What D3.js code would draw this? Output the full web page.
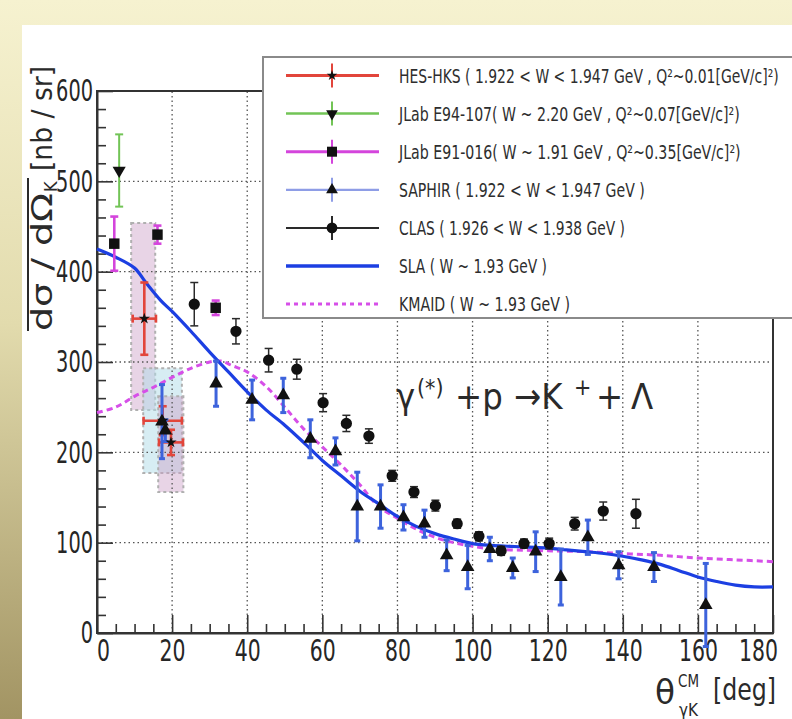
<!DOCTYPE html>
<html><head><meta charset="utf-8">
<script src="https://cdn.jsdelivr.net/npm/d3@7"></script>
<style>html,body{margin:0;padding:0;background:#fff;} svg{display:block;}</style>
</head><body>
<svg id="c" width="792" height="719"></svg>
<script>
// ---------------- DATA ----------------
const xTicks = [0, 20, 40, 60, 80, 100, 120, 140, 160, 180];
const yTicks = [0, 100, 200, 300, 400, 500, 600];

// CLAS (1.926 < W < 1.938 GeV)
const clasAngle = [25.9, 37.0, 45.7, 53.2, 60.2, 66.4, 72.4, 78.6, 84.4, 90.1, 95.9, 101.7, 107.6, 113.7, 120.4, 127.2, 134.8, 143.5];
const clasValue = [364, 334, 302, 292, 255, 232, 218, 174, 156, 141, 121, 107, 91, 99, 99, 121, 135, 132];
const clasError = [24, 14, 13, 11, 10, 9, 8, 6, 6, 6, 5, 5, 5, 5, 6, 7, 10, 16];

// SAPHIR (1.922 < W < 1.947 GeV)
const saphirAngle = [17.3, 18.2, 31.7, 41.3, 49.6, 56.8, 63.5, 69.3, 75.5, 81.6, 87.2, 93.1, 98.7, 104.6, 110.7, 116.8, 123.5, 130.7, 138.9, 148.3, 162.1];
const saphirValue = [234, 224, 276, 258, 263, 215, 201, 140, 140, 128, 121, 86, 73, 93, 72, 90, 62, 106, 75, 73, 31];
const saphirError = [41, 12, 25, 22, 19, 21, 15, 38, 24, 14, 15, 17, 24, 13, 11, 22, 31, 19, 15, 16, 46];

// HES-HKS
const hesAngle = [12.6, 17.5, 19.7];
const hesValue = [348, 235, 211];
const hesAngleErr = [3.1, 5.1, 3.2];
const hesError = [40, 16, 14];
// HES-HKS systematic boxes
const sysLow = [9.1, 12.3, 16.3];
const sysHigh = [15.5, 22.6, 23.0];
const sysBottom = [247, 177, 156];
const sysTop = [454, 293, 262];

// JLab E94-107
const e94Angle = [5.9];
const e94Value = [512];
const e94Error = [40];

// JLab E91-016
const e91Angle = [4.6, 16.1, 31.6];
const e91Value = [431, 441, 360];
const e91Error = [30, 10, 8];

// SLA model
const slaAngle = [0, 5, 10, 13, 17, 20, 25, 30, 35, 40, 45, 50, 55, 60, 65, 70, 75, 80, 85, 90, 95, 100, 105, 110, 115, 120, 125, 130, 135, 140, 145, 150, 155, 160, 165, 170, 175, 180];
const slaValue = [425, 416, 404, 388, 368, 356, 334, 311, 289, 267, 247, 230, 211, 191, 174, 157, 143, 129, 118, 110, 104, 99, 97, 96, 95, 94, 92, 90, 88, 85, 81, 76, 69, 62, 57, 53, 51, 51];

// KMAID model
const kmaidAngle = [0, 5, 10, 15, 20, 25, 30, 33, 36, 40, 45, 50, 55, 60, 65, 70, 75, 80, 85, 90, 95, 100, 105, 110, 120, 130, 140, 150, 160, 170, 180];
const kmaidValue = [244, 250, 262, 272, 283, 293, 300, 301, 296, 289, 273, 250, 226, 206, 186, 164, 140, 127, 115, 106, 100, 96, 93, 92, 91, 90, 88, 86, 83, 81, 79];

const legendLabels = [
  "HES-HKS ( 1.922 < W < 1.947 GeV , Q²~0.01[GeV/c]²)",
  "JLab E94-107( W ~ 2.20 GeV , Q²~0.07[GeV/c]²)",
  "JLab E91-016( W ~ 1.91 GeV , Q²~0.35[GeV/c]²)",
  "SAPHIR  ( 1.922 < W < 1.947 GeV )",
  "CLAS ( 1.926 < W < 1.938 GeV )",
  "SLA ( W ~ 1.93 GeV )",
  "KMAID ( W ~ 1.93 GeV )"
];

// ---------------- LAYOUT / STYLE ----------------
const W = 792, H = 719;
const FONT = "'Liberation Sans Narrow','DejaVu Sans Condensed','Liberation Sans',sans-serif";
const C = {
  red: "#e2453b", green: "#72c456", magenta: "#d445dc", saphirLine: "#8e9de6",
  saphirBar: "#3d63dc", clas: "#2a2a2a", sla: "#1c3fe2", kmaid: "#d64fe8",
  pinkFill: "rgba(205,160,200,0.45)", blueFill: "rgba(175,220,232,0.5)"
};
const legendTextWidths = [380, 341, 342, 246, 226, 148, 171];

const svg = d3.select("#c");
const defs = svg.append("defs");
const grad = defs.append("linearGradient").attr("id", "bg").attr("x1", 0).attr("y1", 0).attr("x2", 0).attr("y2", 1);
grad.append("stop").attr("offset", "0%").attr("stop-color", "#f6f2d0");
grad.append("stop").attr("offset", "45%").attr("stop-color", "#e2dbad");
grad.append("stop").attr("offset", "100%").attr("stop-color", "#a29463");
svg.append("rect").attr("width", W).attr("height", H).attr("fill", "url(#bg)");
svg.append("rect").attr("x", 22).attr("y", 25).attr("width", W - 22).attr("height", H - 25).attr("fill", "#fff");

const x = d3.scaleLinear().domain([0, 180]).range([97, 773]);
const y = d3.scaleLinear().domain([0, 600]).range([633, 91]);

// systematic boxes
const sysFill = [C.pinkFill, C.blueFill, C.pinkFill];
svg.append("g").selectAll("rect").data(sysLow).join("rect")
  .attr("x", (d, i) => x(sysLow[i]))
  .attr("y", (d, i) => y(sysTop[i]))
  .attr("width", (d, i) => x(sysHigh[i]) - x(sysLow[i]))
  .attr("height", (d, i) => y(sysBottom[i]) - y(sysTop[i]))
  .attr("fill", (d, i) => sysFill[i])
  .attr("stroke", "#b0b0b0").attr("stroke-width", 2).attr("stroke-dasharray", "3,3");

// grid
const grid = svg.append("g").attr("stroke", "#555").attr("stroke-width", 1.3).attr("stroke-dasharray", "1.5,3");
grid.selectAll(".gx").data(xTicks.slice(1, -1)).join("line")
  .attr("x1", d => x(d)).attr("x2", d => x(d)).attr("y1", y(0)).attr("y2", y(600));
grid.selectAll(".gy").data(yTicks.slice(1, -1)).join("line")
  .attr("y1", d => y(d)).attr("y2", d => y(d)).attr("x1", x(0)).attr("x2", x(180));

// axes
const xMinor = d3.range(0, 181, 5).filter(v => v % 20 !== 0);
const yMinor = d3.range(0, 601, 20).filter(v => v % 100 !== 0);
const axStyle = digitW => sel => {
  sel.selectAll("line").attr("stroke", "#333").attr("stroke-width", 1.6);
  sel.selectAll("path").attr("stroke", "#333").attr("stroke-width", 2);
  sel.selectAll("text").attr("fill", "#262626").style("font-family", FONT).style("font-size", "31px")
    .attr("textLength", function () { return this.textContent.length * digitW; })
    .attr("lengthAdjust", "spacingAndGlyphs");
};
svg.append("g").attr("transform", `translate(0,${y(0)})`)
  .call(d3.axisBottom(x).tickValues(xMinor).tickSize(-9).tickFormat("")).call(axStyle(13))
  .select(".domain").remove();
svg.append("g").attr("transform", `translate(${x(0)},0)`)
  .call(d3.axisLeft(y).tickValues(yMinor).tickSize(-9).tickFormat("")).call(axStyle(12))
  .select(".domain").remove();
const xAx = svg.append("g").attr("transform", `translate(0,${y(0)})`)
  .call(d3.axisBottom(x).tickValues(xTicks).tickSizeInner(-18).tickSizeOuter(0).tickPadding(6)).call(axStyle(13));
// first and last x labels are nudged inside, as in the original
xAx.selectAll(".tick text").attr("dx", d => d === 0 ? 6 : (d === 180 ? -15 : 0));
svg.append("g").attr("transform", `translate(${x(0)},0)`)
  .call(d3.axisLeft(y).tickValues(yTicks).tickSizeInner(-16).tickSizeOuter(0).tickPadding(4)).call(axStyle(12.3));
svg.append("rect").attr("x", x(0)).attr("y", y(600)).attr("width", x(180) - x(0)).attr("height", y(0) - y(600))
  .attr("fill", "none").attr("stroke", "#333").attr("stroke-width", 2);

// model curves
const plot = svg.append("g");
plot.append("path")
  .datum(kmaidAngle.map((a, i) => [a, kmaidValue[i]]))
  .attr("d", d3.line().x(d => x(d[0])).y(d => y(d[1])).curve(d3.curveCatmullRom))
  .attr("fill", "none").attr("stroke", C.kmaid).attr("stroke-width", 3).attr("stroke-dasharray", "6,4");
plot.append("path")
  .datum(slaAngle.map((a, i) => [a, slaValue[i]]))
  .attr("d", d3.line().x(d => x(d[0])).y(d => y(d[1])).curve(d3.curveCatmullRom))
  .attr("fill", "none").attr("stroke", C.sla).attr("stroke-width", 3.2);

// error bar helper
function vbars(angles, vals, errs, color, width, cap) {
  const gg = plot.append("g").attr("stroke", color).attr("stroke-width", width);
  angles.forEach((a, i) => {
    const cx = x(a), y1 = y(vals[i] + errs[i]), y2 = y(vals[i] - errs[i]);
    gg.append("line").attr("x1", cx).attr("x2", cx).attr("y1", y1).attr("y2", y2);
    gg.append("line").attr("x1", cx - cap).attr("x2", cx + cap).attr("y1", y1).attr("y2", y1);
    gg.append("line").attr("x1", cx - cap).attr("x2", cx + cap).attr("y1", y2).attr("y2", y2);
  });
}
function markers(angles, vals, type, size, rot) {
  plot.append("g").selectAll("path").data(angles).join("path")
    .attr("transform", (d, i) => `translate(${x(d)},${y(vals[i])}) rotate(${rot || 0})`)
    .attr("d", d3.symbol().type(type).size(size)).attr("fill", "#111");
}

// HES-HKS
vbars(hesAngle, hesValue, hesError, C.red, 2.6, 4);
const hg = plot.append("g").attr("stroke", C.red).attr("stroke-width", 2.6);
hesAngle.forEach((a, i) => {
  const x1 = x(a - hesAngleErr[i]), x2 = x(a + hesAngleErr[i]), cy = y(hesValue[i]);
  hg.append("line").attr("x1", x1).attr("x2", x2).attr("y1", cy).attr("y2", cy);
  hg.append("line").attr("x1", x1).attr("x2", x1).attr("y1", cy - 4).attr("y2", cy + 4);
  hg.append("line").attr("x1", x2).attr("x2", x2).attr("y1", cy - 4).attr("y2", cy + 4);
});
// E94-107
vbars(e94Angle, e94Value, e94Error, C.green, 2, 4);
markers(e94Angle, e94Value, d3.symbolTriangle, 75, 180);
// E91-016
vbars(e91Angle, e91Value, e91Error, C.magenta, 2.6, 4);
markers(e91Angle, e91Value, d3.symbolSquare, 110);
// SAPHIR
vbars(saphirAngle, saphirValue, saphirError, C.saphirBar, 3, 3);
markers(saphirAngle, saphirValue, d3.symbolTriangle, 80);
// HES markers on top
markers(hesAngle, hesValue, d3.symbolStar, 40);
// CLAS
vbars(clasAngle, clasValue, clasError, C.clas, 1.5, 4);
markers(clasAngle, clasValue, d3.symbolCircle, 100);

// annotation
const ann = svg.append("text").attr("y", 409).attr("fill", "#2a2a2a")
  .style("font-family", FONT).style("font-size", "36px");
ann.append("tspan").attr("x", 396).text("γ");
ann.append("tspan").attr("x", 417).attr("dy", -13).style("font-size", "23px").text("(*)");
ann.append("tspan").attr("x", 455).attr("dy", 13).text("+p");
ann.append("tspan").attr("x", 514).text("→K");
ann.append("tspan").attr("x", 574).attr("dy", -14).style("font-size", "23px").text("+");
ann.append("tspan").attr("x", 596).attr("dy", 14).text("+");
ann.append("tspan").attr("x", 631).text("Λ");

// axis titles
const tStyle = s => s.attr("fill", "#2a2a2a").style("font-family", FONT);
svg.append("text").attr("transform", "translate(52,331) rotate(-90)").call(tStyle)
  .style("font-size", "28px").attr("textLength", 138).attr("lengthAdjust", "spacingAndGlyphs").text("dσ / dΩ");
svg.append("text").attr("transform", "translate(57,192) rotate(-90)").call(tStyle)
  .style("font-size", "18px").text("K");
svg.append("line").attr("x1", 28).attr("x2", 28).attr("y1", 331).attr("y2", 178)
  .attr("stroke", "#2a2a2a").attr("stroke-width", 2);
svg.append("text").attr("transform", "translate(52,171) rotate(-90)").call(tStyle)
  .style("font-size", "28px").attr("textLength", 105).attr("lengthAdjust", "spacingAndGlyphs").text("[nb / sr]");

svg.append("text").attr("x", 655).attr("y", 704).call(tStyle).style("font-size", "33px")
  .attr("textLength", 20).attr("lengthAdjust", "spacingAndGlyphs").text("θ");
svg.append("text").attr("x", 678).attr("y", 687).call(tStyle).style("font-size", "17px")
  .attr("textLength", 21).attr("lengthAdjust", "spacingAndGlyphs").text("CM");
svg.append("text").attr("x", 679).attr("y", 716).call(tStyle).style("font-size", "17px")
  .attr("textLength", 19).attr("lengthAdjust", "spacingAndGlyphs").text("γK");
svg.append("text").attr("x", 713).attr("y", 700).call(tStyle).style("font-size", "30px")
  .attr("textLength", 63).attr("lengthAdjust", "spacingAndGlyphs").text("[deg]");

// legend
const lg = svg.append("g");
lg.append("rect").attr("x", 263).attr("y", 57).attr("width", 560).attr("height", 261)
  .attr("fill", "#fff").attr("stroke", "#8a8a8a").attr("stroke-width", 2);
const rowY = i => 75.5 + i * 38.1;
const lineCol = [C.red, C.green, C.magenta, C.saphirLine, C.clas, C.sla, C.kmaid];
const lineW = [3, 2.5, 3, 2.2, 2, 3.5, 3];
const mk = [d3.symbolStar, d3.symbolTriangle, d3.symbolSquare, d3.symbolTriangle, d3.symbolCircle, null, null];
const mkSize = [35, 60, 100, 60, 90];
const mkRot = [0, 180, 0, 0, 0];
legendLabels.forEach((t, i) => {
  const cy = rowY(i);
  lg.append("line").attr("x1", 286).attr("x2", 379).attr("y1", cy).attr("y2", cy)
    .attr("stroke", lineCol[i]).attr("stroke-width", lineW[i])
    .attr("stroke-dasharray", i === 6 ? "4,4" : null);
  if (mk[i]) {
    lg.append("line").attr("x1", 332).attr("x2", 332).attr("y1", cy - 12).attr("y2", cy + 12)
      .attr("stroke", lineCol[i]).attr("stroke-width", 2);
    lg.append("path").attr("transform", `translate(332,${cy}) rotate(${mkRot[i]})`)
      .attr("d", d3.symbol().type(mk[i]).size(mkSize[i])).attr("fill", "#111");
  }
  const tx = lg.append("text").attr("x", 0).attr("y", 0).attr("fill", "#2e2e2e")
    .style("font-family", FONT).style("font-size", "19px").text(t);
  const natural = tx.node().getComputedTextLength();
  const sx = legendTextWidths[i] / natural;
  tx.attr("transform", `translate(399,${cy + 7}) scale(${sx},1)`);
});
</script>
</body></html>
